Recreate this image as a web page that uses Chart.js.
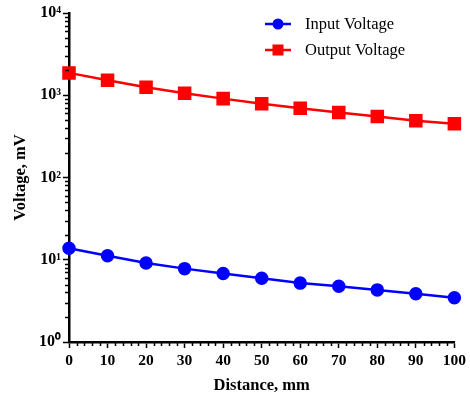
<!DOCTYPE html>
<html>
<head>
<meta charset="utf-8">
<script src="https://cdn.jsdelivr.net/npm/chart.js@4.4.1/dist/chart.umd.min.js"></script>
<style>
html, body { margin: 0; padding: 0; background: #fff; }
#wrap { width: 470px; height: 401px; position: relative; }
</style>
</head>
<body>
<div id="wrap"><canvas id="voltageChart"></canvas></div>
<script>
const distances = [0, 10, 20, 30, 40, 50, 60, 70, 80, 90, 100];
const inputVoltage = [13.8, 11.2, 9.15, 7.8, 6.8, 5.95, 5.2, 4.75, 4.3, 3.85, 3.45];
const outputVoltage = [1870, 1520, 1250, 1055, 910, 790, 693, 617, 553, 490, 451];

const xMajorTicks = [0, 10, 20, 30, 40, 50, 60, 70, 80, 90, 100];
const xMinorStep = 2;
const yMajorTicks = [1, 10, 100, 1000, 10000];
const yTickLabels = ["10\u2070", "10\u00b9", "10\u00b2", "10\u00b3", "10\u2074"];

const serif = '"Liberation Serif", "Times New Roman", serif';

// all tick positions (major + minor)
const xAllTicks = [];
for (let v = xMajorTicks[0]; v <= xMajorTicks[xMajorTicks.length - 1]; v += xMinorStep) xAllTicks.push(v);
const yAllTicks = [];
yMajorTicks.forEach((m, i) => {
  yAllTicks.push(m);
  if (i < yMajorTicks.length - 1) for (let k = 2; k <= 9; k++) yAllTicks.push(m * k);
});

const toPoints = (ys) => distances.map((d, i) => ({ x: d, y: ys[i] }));

// short minor tick marks
const minorTicks = {
  id: "minorTicks",
  afterDraw(chart) {
    const ctx = chart.ctx;
    const xs = chart.scales.x, ys = chart.scales.y;
    ctx.save();
    ctx.strokeStyle = "#000";
    ctx.lineWidth = 1.5;
    ctx.beginPath();
    xAllTicks.forEach(v => {
      if (xMajorTicks.includes(v)) return;
      const px = Math.round(xs.getPixelForValue(v)) + 0.5;
      ctx.moveTo(px, xs.top);
      ctx.lineTo(px, xs.top + 4);
    });
    yAllTicks.forEach(v => {
      if (yMajorTicks.includes(v)) return;
      const py = Math.round(ys.getPixelForValue(v)) + 0.5;
      ctx.moveTo(ys.right, py);
      ctx.lineTo(ys.right - 4, py);
    });
    ctx.stroke();
    ctx.restore();
  }
};

// legend drawn inside the plot, top right
const innerLegend = {
  id: "innerLegend",
  afterDraw(chart) {
    const ctx = chart.ctx;
    ctx.save();
    chart.data.datasets.forEach((ds, i) => {
      const y = 24 + i * 26;
      const x0 = 265, x1 = 291, cx = 278;
      ctx.strokeStyle = ds.borderColor;
      ctx.lineWidth = 2.5;
      ctx.beginPath();
      ctx.moveTo(x0, y);
      ctx.lineTo(x1, y);
      ctx.stroke();
      ctx.fillStyle = ds.backgroundColor;
      if (ds.pointStyle === "rect") {
        ctx.fillRect(cx - 5.5, y - 5.5, 11, 11);
      } else {
        ctx.beginPath();
        ctx.arc(cx, y, 5.5, 0, Math.PI * 2);
        ctx.fill();
      }
      ctx.fillStyle = "#000";
      ctx.font = "16.5px " + serif;
      ctx.textBaseline = "middle";
      ctx.fillText(ds.label, 305, y + 1);
    });
    ctx.restore();
  }
};

new Chart(document.getElementById("voltageChart"), {
  type: "line",
  data: {
    datasets: [
      {
        label: "Input Voltage",
        data: toPoints(inputVoltage),
        borderColor: "#0000ff",
        backgroundColor: "#0000ff",
        borderWidth: 2.5,
        pointStyle: "circle",
        pointRadius: 5.5,
        pointHoverRadius: 5.5,
        clip: false
      },
      {
        label: "Output Voltage",
        data: toPoints(outputVoltage),
        borderColor: "#ff0000",
        backgroundColor: "#ff0000",
        borderWidth: 2.5,
        pointStyle: "rect",
        pointRadius: 7.8,
        pointHoverRadius: 7.8,
        clip: false
      }
    ]
  },
  options: {
    responsive: true,
    maintainAspectRatio: false,
    animation: false,
    layout: { padding: { left: 0, right: 12, top: 13, bottom: 0 } },
    plugins: {
      legend: { display: false },
      tooltip: { enabled: false }
    },
    scales: {
      x: {
        type: "linear",
        min: 0,
        max: 100,
        afterBuildTicks: (s) => { s.ticks = xAllTicks.map(v => ({ value: v })); },
        afterFit: (s) => { s.height = 59; },
        border: { color: "#000", width: 2.5 },
        grid: {
          drawOnChartArea: false,
          tickLength: 6,
          tickWidth: 1.5,
          tickColor: (c) => xMajorTicks.includes(c.tick && c.tick.value) ? "#000" : "rgba(0,0,0,0)"
        },
        ticks: {
          autoSkip: false,
          maxRotation: 0,
          padding: 4,
          color: "#000",
          font: { family: serif, size: 15.5, weight: "bold" },
          callback: (v) => xMajorTicks.includes(v) ? String(v) : ""
        },
        title: {
          display: true,
          text: "Distance, mm",
          color: "#000",
          font: { family: serif, size: 16.5, weight: "bold" },
          padding: { top: 0, bottom: 5 }
        }
      },
      y: {
        type: "logarithmic",
        min: 1,
        max: 10000,
        afterBuildTicks: (s) => { s.ticks = yAllTicks.map(v => ({ value: v })); },
        afterFit: (s) => { s.width = 69; },
        border: { color: "#000", width: 2.5 },
        grid: {
          drawOnChartArea: false,
          tickLength: 6,
          tickWidth: 1.5,
          tickColor: (c) => yMajorTicks.includes(c.tick && c.tick.value) ? "#000" : "rgba(0,0,0,0)"
        },
        ticks: {
          autoSkip: false,
          padding: 2,
          color: "#000",
          font: { family: serif, size: 16, weight: "bold" },
          callback: (v) => {
            const i = yMajorTicks.indexOf(v);
            return i >= 0 ? yTickLabels[i] : "";
          }
        },
        title: {
          display: true,
          text: "Voltage, mV",
          color: "#000",
          font: { family: serif, size: 16.5, weight: "bold" },
          padding: { top: 11, bottom: 0 }
        }
      }
    }
  },
  plugins: [minorTicks, innerLegend]
});
</script>
</body>
</html>
